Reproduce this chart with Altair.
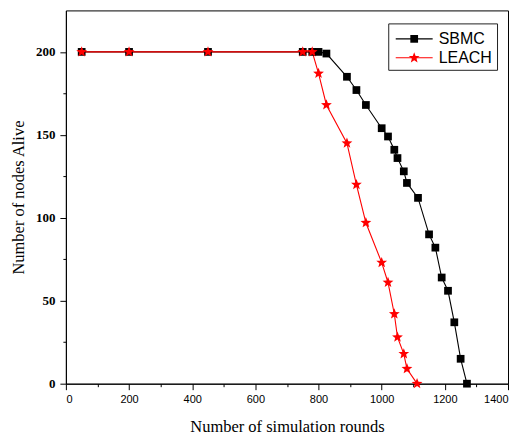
import altair as alt
import pandas as pd

# ---- data ----
series_names = ["SBMC", "LEACH"]
series_colors = ["#000000", "#ff0000"]

sbmc_x = [50, 200, 450, 750, 780, 800, 825, 890, 920, 950, 1000, 1020, 1040, 1050,
          1070, 1080, 1115, 1150, 1170, 1190, 1210, 1230, 1250, 1270]
sbmc_y = [200, 200, 200, 200, 200, 200, 199, 185, 177, 168, 154, 149, 141, 136,
          128, 121, 112, 90, 82, 64, 56, 37, 15, 0]

leach_x = [50, 200, 450, 750, 780, 800, 825, 890, 920, 950, 1000, 1020, 1040, 1050,
           1070, 1080, 1112]
leach_y = [200, 200, 200, 200, 200, 187, 168, 145, 120, 97, 73, 61, 42, 28,
           18, 9, 0]

x_major = [0, 200, 400, 600, 800, 1000, 1200, 1400]
x_minor = [100, 300, 500, 700, 900, 1100, 1300]
y_major = [0, 50, 100, 150, 200]
y_minor = [25, 75, 125, 175]

x_title = "Number of simulation rounds"
y_title = "Number of nodes Alive"

df = pd.concat([
    pd.DataFrame({"rounds": sbmc_x, "alive": sbmc_y, "series": series_names[0]}),
    pd.DataFrame({"rounds": leach_x, "alive": leach_y, "series": series_names[1]}),
], ignore_index=True)

SQUARE = "square"
STAR = ("M0,-1L0.25,-0.34L0.951,-0.309L0.405,0.132L0.588,0.809L0,0.42"
        "L-0.588,0.809L-0.405,0.132L-0.951,-0.309L-0.25,-0.34Z")

W, H = 443, 374
SERIF = "Liberation Serif"
SANS = "Liberation Sans"

xs = alt.Scale(domain=[0, 1400], nice=False, zero=False)
ys = alt.Scale(domain=[0, 225], nice=False, zero=False)
cs = alt.Scale(domain=series_names, range=series_colors)
ss = alt.Scale(domain=series_names, range=[SQUARE, STAR])

major_x_axis = alt.Axis(values=x_major, tickSize=6, labelPadding=4, labelFont=SANS,
                        labelFontSize=11, title=x_title, titleFont=SERIF,
                        titleFontSize=16.5, titleFontWeight="normal", titlePadding=14,
                        orient="bottom", format="d")
major_y_axis = alt.Axis(values=y_major, tickSize=6, labelPadding=5, labelFont=SERIF,
                        labelFontSize=13, labelFontWeight="bold", title=y_title,
                        titleFont=SERIF, titleFontSize=16.5, titleFontWeight="normal",
                        titlePadding=9, orient="left", format="d")
minor_x_axis = alt.Axis(values=x_minor, tickSize=3, labels=False, domain=False,
                        title=None, orient="bottom")
minor_y_axis = alt.Axis(values=y_minor, tickSize=3, labels=False, domain=False,
                        title=None, orient="left")

lines = alt.Chart(df).mark_line(strokeWidth=1.1).encode(
    x=alt.X("rounds:Q", scale=xs, axis=major_x_axis),
    y=alt.Y("alive:Q", scale=ys, axis=major_y_axis),
    color=alt.Color("series:N", scale=cs, legend=None),
    detail="series:N",
)

points = alt.Chart(df).mark_point(filled=True, opacity=1).encode(
    x=alt.X("rounds:Q", scale=xs, axis=minor_x_axis),
    y=alt.Y("alive:Q", scale=ys, axis=minor_y_axis),
    color=alt.Color("series:N", scale=cs, legend=None),
    shape=alt.Shape("series:N", scale=ss, legend=None),
    size=alt.Size("series:N", scale=alt.Scale(domain=series_names, range=[60, 130]),
                  legend=None),
)

# ---- manual legend box (top right) ----
box_df = pd.DataFrame({"label": ["legend"]})
legend_box = alt.Chart(box_df).mark_rect(fill="white", stroke="#222222",
                                         strokeWidth=1).encode(
    x=alt.value(323.5), x2=alt.value(432.5), y=alt.value(13.5), y2=alt.value(60)
)

legend_layers = [legend_box]
entry_rows = [28.5, 47.5]
entry_sizes = [60, 130]
entry_shapes = [SQUARE, STAR]
for name, color, row, shp, sz in zip(series_names, series_colors, entry_rows,
                                     entry_shapes, entry_sizes):
    edf = pd.DataFrame({"label": [name]})
    legend_layers.append(alt.Chart(edf).mark_rule(color=color, strokeWidth=1.1).encode(
        x=alt.value(330.5), x2=alt.value(367.5), y=alt.value(row)))
    legend_layers.append(alt.Chart(edf).mark_point(
        filled=True, opacity=1, color=color, shape=shp, size=sz).encode(
        x=alt.value(349), y=alt.value(row)))
    legend_layers.append(alt.Chart(edf).mark_text(
        align="left", baseline="middle", font=SANS, fontSize=16, color="black").encode(
        x=alt.value(373.5), y=alt.value(row + 0.5), text="label:N"))

chart = alt.layer(lines, points, *legend_layers).resolve_axis(
    x="independent", y="independent"
).properties(
    width=W, height=H,
    padding={"left": 58, "top": 2, "right": 4, "bottom": 52},
    autosize=alt.AutoSizeParams(type="none"),
).configure_axis(
    domainColor="black", tickColor="black", labelColor="black", titleColor="black",
    grid=False, domainWidth=1, tickWidth=1,
).configure_view(
    stroke="black", strokeWidth=1
)

chart.save("out.html", embed_options={"renderer": "svg", "actions": False})
